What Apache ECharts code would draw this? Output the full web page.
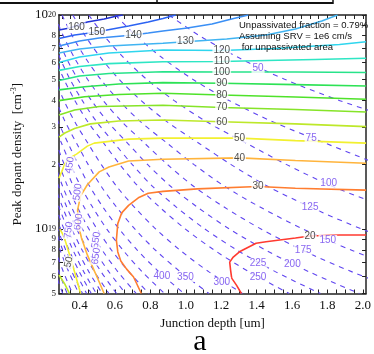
<!DOCTYPE html>
<html><head><meta charset="utf-8">
<script src="https://cdn.jsdelivr.net/npm/echarts@6/dist/echarts.min.js"></script>
<style>html,body{margin:0;padding:0;background:#fff}#c{width:374px;height:354px}</style>
</head><body><div id="c"></div>
<script>
// ---------- data ----------
const xTickLabels = [0.4, 0.6, 0.8, 1.0, 1.2, 1.4, 1.6, 1.8, 2.0];
const xMinorTicks = [0.3,0.35,0.4,0.45,0.5,0.55,0.6,0.65,0.7,0.75,0.8,0.85,0.9,0.95,1.0,1.05,1.1,1.15,1.2,1.25,1.3,1.35,1.4,1.45,1.5,1.55,1.6,1.65,1.7,1.75,1.8,1.85,1.9,1.95,2.0];
const yTickLabels = [5e18, 6e18, 7e18, 8e18, 9e18, 1e19, 2e19, 3e19, 4e19, 5e19, 6e19, 7e19, 8e19, 9e19, 1e20];

// dopant density levels at which the sheet-resistance contours are read
const densityLevels = [1e20, 7.94e19, 6.31e19, 5.01e19, 3.98e19, 3.16e19, 2.51e19, 2.0e19, 1.58e19, 1.26e19, 1.0e19, 7.94e18, 6.31e18, 5.0e18];
// sheet resistance contour values (ohm/sq) and junction depth (um) at each density level
const sheetValues = [50,75,100,125,150,175,200,225,250,300,350,400,450,500,550,600,650,700,750,800,850,900,950,1000,1100,1200,1300];
const sheetDepths = [
 [0.904,1.084,1.30,1.558,1.87,2.242,null,null,null,null,null,null,null,null],
 [0.603,0.723,0.867,1.039,1.247,1.495,1.793,2.093,null,null,null,null,null,null],
 [0.452,0.542,0.65,0.779,0.935,1.121,1.345,1.57,1.831,2.137,null,null,null,null],
 [0.362,0.434,0.52,0.623,0.748,0.897,1.076,1.256,1.465,1.71,1.995,2.328,null,null],
 [0.301,0.361,0.433,0.519,0.623,0.747,0.897,1.047,1.221,1.425,1.663,1.94,2.263,null],
 [0.258,0.31,0.371,0.445,0.534,0.641,0.769,0.897,1.046,1.221,1.425,1.663,1.939,2.263],
 [0.226,0.271,0.325,0.39,0.468,0.561,0.673,0.785,0.916,1.069,1.247,1.455,1.697,1.98],
 [null,0.241,0.289,0.346,0.416,0.498,0.598,0.698,0.814,0.95,1.108,1.293,1.508,1.76],
 [null,0.217,0.26,0.312,0.374,0.448,0.538,0.628,0.732,0.855,0.998,1.164,1.358,1.584],
 [null,null,0.217,0.26,0.312,0.374,0.448,0.523,0.61,0.712,0.831,0.97,1.131,1.32],
 [null,null,null,0.223,0.267,0.32,0.384,0.449,0.523,0.611,0.713,0.831,0.97,1.131],
 [null,null,null,null,0.234,0.28,0.336,0.393,0.458,0.534,0.624,0.728,0.849,0.99],
 [null,null,null,null,null,0.249,0.299,0.349,0.407,0.475,0.554,0.647,0.754,0.88],
 [null,null,null,null,null,0.224,0.269,0.314,0.366,0.427,0.499,0.582,0.679,0.792],
 [null,null,null,null,null,null,0.245,0.285,0.333,0.389,0.453,0.529,0.617,0.72],
 [null,null,null,null,null,null,0.224,0.262,0.305,0.356,0.416,0.485,0.566,0.66],
 [null,null,null,null,null,null,null,0.242,0.282,0.329,0.384,0.448,0.522,0.609],
 [null,null,null,null,null,null,null,0.224,0.262,0.305,0.356,0.416,0.485,0.566],
 [null,null,null,null,null,null,null,null,0.244,0.285,0.333,0.388,0.453,0.528],
 [null,null,null,null,null,null,null,null,0.229,0.267,0.312,0.364,0.424,0.495],
 [null,null,null,null,null,null,null,null,null,0.251,0.293,0.342,0.399,0.466],
 [null,null,null,null,null,null,null,null,null,0.237,0.277,0.323,0.377,0.44],
 [null,null,null,null,null,null,null,null,null,0.225,0.263,0.306,0.357,0.417],
 [null,null,null,null,null,null,null,null,null,null,0.249,0.291,0.339,0.396],
 [null,null,null,null,null,null,null,null,null,null,0.227,0.265,0.309,0.36],
 [null,null,null,null,null,null,null,null,null,null,null,0.243,0.283,0.33],
 [null,null,null,null,null,null,null,null,null,null,null,0.224,0.261,0.305]
];
const sheetLabelText = ['50','75','100','125','150','175','200','225','250','300','350','400','450','500','550','600','650','750'];
const sheetLabelPos = [[1.408,5.65e19],[1.708,2.66e19],[1.807,1.64e19],[1.702,1.27e19],[1.802,8.89e18],[1.663,7.98e18],[1.602,6.86e18],[1.408,6.94e18],[1.408,5.97e18],[1.203,5.65e18],[0.998,5.97e18],[0.865,6.03e18],[0.345,1.99e19],[0.389,1.49e19],[0.494,8.89e18],[0.394,1.08e19],[0.494,7.48e18],[0.339,9.89e18]];

// loss contours (solid): [junction depth um, peak density cm^-3]
const loss160 = [[0.284,8.51e19],[0.345,8.70e19],[0.444,9.27e19],[0.539,9.58e19],[0.611,9.89e19],[0.644,1e20]];
const loss150 = [[0.284,7.77e19],[0.372,8.07e19],[0.5,8.33e19],[0.555,8.51e19],[0.677,8.88e19],[0.788,9.27e19],[0.871,9.63e19],[0.943,1e20]];
const loss140 = [[0.284,7.16e19],[0.4,7.56e19],[0.511,7.81e19],[0.705,8.07e19],[0.788,8.24e19],[0.871,8.42e19],[1.009,8.70e19],[1.148,9.08e19],[1.259,9.58e19],[1.353,1e20]];
const loss130 = [[0.284,6.64e19],[0.4,6.94e19],[0.566,7.16e19],[0.732,7.28e19],[0.871,7.38e19],[0.998,7.50e19],[1.231,7.73e19],[1.453,8.07e19],[1.619,8.60e19],[1.768,9.37e19],[1.857,1e20]];
const loss120 = [[0.284,6.00e19],[0.4,6.36e19],[0.566,6.64e19],[0.871,6.86e19],[1.203,6.83e19],[1.508,6.97e19],[1.73,7.16e19],[1.868,7.28e19],[2.018,7.5e19]];
const loss110 = [[0.284,5.51e19],[0.4,5.75e19],[0.566,5.93e19],[0.871,6.05e19],[1.203,6.06e19],[1.453,6.13e19],[1.73,6.20e19],[2.018,6.28e19]];
const loss100 = [[0.284,4.94e19],[0.4,5.19e19],[0.566,5.33e19],[0.871,5.43e19],[1.203,5.42e19],[1.619,5.42e19],[2.018,5.39e19]];
const loss90 = [[0.284,4.47e19],[0.428,4.62e19],[0.622,4.76e19],[0.871,4.83e19],[1.203,4.80e19],[1.619,4.73e19],[2.018,4.66e19]];
const loss80 = [[0.284,3.98e19],[0.428,4.15e19],[0.622,4.25e19],[0.871,4.31e19],[1.203,4.23e19],[1.619,4.14e19],[2.018,4.04e19]];
const loss70 = [[0.284,3.41e19],[0.372,3.60e19],[0.511,3.74e19],[0.871,3.79e19],[1.203,3.70e19],[1.619,3.62e19],[2.018,3.52e19]];
const loss60 = [[0.284,2.69e19],[0.317,2.81e19],[0.372,2.95e19],[0.461,3.10e19],[0.622,3.20e19],[0.871,3.23e19],[1.203,3.17e19],[1.619,3.10e19],[2.018,3.01e19]];
const loss60Low = [[0.284,6.10e18],[0.317,5.53e18],[0.343,5.0e18]];
const loss50 = [[0.284,1.73e19],[0.3,1.86e19],[0.317,2.02e19],[0.345,2.15e19],[0.383,2.24e19],[0.444,2.44e19],[0.483,2.52e19],[0.677,2.63e19],[0.871,2.66e19],[1.303,2.66e19],[1.619,2.59e19],[2.018,2.52e19]];
const loss50Low = [[0.289,1.0e19],[0.311,9.28e18],[0.339,7.82e18],[0.372,6.30e18],[0.406,5.0e18]];
const loss40 = [[2.018,2.03e19],[1.619,2.09e19],[1.303,2.15e19],[0.871,2.12e19],[0.677,2.08e19],[0.566,1.95e19],[0.511,1.85e19],[0.444,1.61e19],[0.406,1.43e19],[0.389,1.23e19],[0.394,1.04e19],[0.411,9.08e18],[0.444,7.57e18],[0.489,6.23e18],[0.539,5.0e18]];
const loss30 = [[2.018,1.52e19],[1.619,1.55e19],[1.408,1.58e19],[1.065,1.54e19],[0.871,1.50e19],[0.788,1.47e19],[0.732,1.40e19],[0.677,1.29e19],[0.638,1.19e19],[0.616,1.06e19],[0.608,8.88e18],[0.616,7.82e18],[0.633,7.09e18],[0.666,6.50e18],[0.705,5.97e18],[0.749,5.0e18]];
const loss20 = [[2.018,9.38e18],[1.868,9.38e18],[1.702,9.28e18],[1.619,9.08e18],[1.453,8.72e18],[1.397,8.58e18],[1.303,7.83e18],[1.268,7.40e18],[1.248,7.01e18],[1.253,6.43e18],[1.259,5.90e18],[1.286,5.47e18],[1.314,5.0e18]];

const lossLabelText = ['160','150','140','130','120','110','100','90','80','70','60','50','40','30','20','50'];
const lossLabelPos = [[0.383,8.74e19],[0.497,8.33e19],[0.705,8.06e19],[0.998,7.50e19],[1.203,6.81e19],[1.203,6.05e19],[1.203,5.40e19],[1.203,4.80e19],[1.203,4.23e19],[1.203,3.69e19],[1.203,3.17e19],[1.303,2.66e19],[1.303,2.15e19],[1.408,1.58e19],[1.702,9.27e18],[0.339,7.01e18]];

// ---------- chart ----------
const serif = 'Liberation Serif, "Times New Roman", serif';
const sans = 'Liberation Sans, Arial, sans-serif';
const lossColor = {160:'#2233d6',150:'#2c63f2',140:'#3a8ff5',130:'#40b4f2',120:'#2fd6ee',110:'#2ee6c4',100:'#27e38a',90:'#2de255',80:'#4fe22a',70:'#86e428',60:'#bde82a',50:'#f2f030',40:'#ffb43c',30:'#ff7d30',20:'#ff3a30'};
const lossPaths = [[160,loss160],[150,loss150],[140,loss140],[130,loss130],[120,loss120],[110,loss110],[100,loss100],[90,loss90],[80,loss80],[70,loss70],[60,loss60],[60,loss60Low],[50,loss50],[50,loss50Low],[40,loss40],[30,loss30],[20,loss20]];
const X_MIN = 0.284, X_MAX = 2.018, Y_MIN = 5e18, Y_MAX = 1e20;
// keep the end ticks inside the log extent despite floating-point rounding
const yLabelValues = yTickLabels.map(v => v === Y_MAX ? v * 0.999999 : (v === Y_MIN ? v * 1.000001 : v));

const series = [];
sheetValues.forEach((r, i) => {
  const d = [];
  sheetDepths[i].forEach((x, j) => { if (x !== null) d.push([x, densityLevels[j]]); });
  series.push({ type: 'line', name: 'R' + r, data: d, symbol: 'none', silent: true, z: 2, smooth: 0.3,
    lineStyle: { color: '#5f45f0', width: 1.1, type: [5, 5] } });
});
lossPaths.forEach(([v, path]) => {
  series.push({ type: 'line', name: 'L' + v, data: path, symbol: 'none', silent: true, z: 3,
    lineStyle: { color: lossColor[v], width: 1.6 } });
});
const rotated = new Set(['450','500','550','600','650','750']);
series.push({ type: 'scatter', z: 6, silent: true, symbolSize: 1, itemStyle: { color: 'rgba(0,0,0,0)' },
  data: sheetLabelText.map((t, i) => ({ name: t, value: sheetLabelPos[i],
    label: { rotate: rotated.has(t) ? 82 : 0 } })),
  label: { show: true, position: 'inside', formatter: '{b}', color: '#6a40ee', fontFamily: sans, fontSize: 10,
    backgroundColor: '#fff', padding: [0, 1, 0, 1] } });
series.push({ type: 'scatter', z: 7, silent: true, symbolSize: 1, itemStyle: { color: 'rgba(0,0,0,0)' },
  data: lossLabelText.map((t, i) => ({ name: t, value: lossLabelPos[i],
    label: { rotate: i === lossLabelText.length - 1 ? 78 : 0 } })),
  label: { show: true, position: 'inside', formatter: '{b}', color: '#222', fontFamily: sans, fontSize: 10,
    backgroundColor: '#fff', padding: [0, 1, 0, 1] } });

const axisLineStyle = { color: '#222', width: 1.5 };
const chart = echarts.init(document.getElementById('c'), null, { renderer: 'canvas' });
chart.setOption({
  animation: false,
  grid: { left: 59, top: 15, right: 1.3, bottom: 60.5, containLabel: false },
  xAxis: [
    { type: 'value', min: X_MIN, max: X_MAX, position: 'bottom',
      axisLine: { show: true, lineStyle: axisLineStyle }, splitLine: { show: false },
      axisTick: { show: true, inside: true, length: 4, customValues: xMinorTicks, lineStyle: { color: '#222', width: 1 } },
      axisLabel: { customValues: xTickLabels, formatter: v => v.toFixed(1), fontFamily: serif, fontSize: 13, color: '#111', margin: 6,
        showMinLabel: true, showMaxLabel: true },
      name: 'Junction depth [um]', nameLocation: 'middle', nameGap: 20,
      nameTextStyle: { fontFamily: serif, fontSize: 13, color: '#111' } },
    { type: 'value', min: X_MIN, max: X_MAX, position: 'top',
      axisLine: { show: true, lineStyle: axisLineStyle }, splitLine: { show: false },
      axisTick: { show: true, inside: true, length: 4, customValues: xMinorTicks, lineStyle: { color: '#222', width: 1 } },
      axisLabel: { show: false } }
  ],
  yAxis: [
    { type: 'log', logBase: 10, min: Y_MIN, max: Y_MAX, position: 'left',
      axisLine: { show: true, lineStyle: { color: '#555', width: 2 } }, splitLine: { show: false },
      axisTick: { show: true, inside: true, length: 4, customValues: yLabelValues, lineStyle: { color: '#222', width: 1 } },
      axisLabel: { customValues: yLabelValues, margin: 3, color: '#111', showMinLabel: true, showMaxLabel: true, hideOverlap: false,
        formatter: v => {
          const e = Math.floor(Math.log10(v) + 1e-6);
          const m = Math.round(v / Math.pow(10, e));
          return m === 1 ? '{b|10}{s|' + e + '}' : '{m|' + m + '}';
        },
        rich: { b: { fontFamily: serif, fontSize: 13, lineHeight: 9, color: '#111' },
                s: { fontFamily: serif, fontSize: 8, lineHeight: 1, color: '#111', verticalAlign: 'top' },
                m: { fontFamily: serif, fontSize: 9, lineHeight: 5, color: '#111' } } },
      name: 'Peak dopant density  [cm{sup|-3}]', nameLocation: 'middle', nameGap: 30,
      nameTextStyle: { fontFamily: serif, fontSize: 13, color: '#111',
        rich: { sup: { fontFamily: serif, fontSize: 8, color: '#111', verticalAlign: 'bottom', padding: [0, 0, 8, 0] } } } },
    { type: 'log', logBase: 10, min: Y_MIN, max: Y_MAX, position: 'right',
      axisLine: { show: true, lineStyle: axisLineStyle }, splitLine: { show: false },
      axisTick: { show: true, inside: true, length: 4, customValues: yLabelValues, lineStyle: { color: '#222', width: 1 } },
      axisLabel: { show: false } }
  ],
  graphic: [
    { type: 'line', shape: { x1: 0, y1: 3, x2: 333, y2: 3 }, style: { stroke: '#111', lineWidth: 2 } },
    { type: 'line', shape: { x1: 157, y1: 0, x2: 157, y2: 3 }, style: { stroke: '#111', lineWidth: 1.5 } },
    { type: 'line', shape: { x1: 333, y1: 0, x2: 333, y2: 4 }, style: { stroke: '#111', lineWidth: 1.5 } },
    { type: 'text', x: 239, y: 20.5, z: 10,
      style: { text: 'Unpassivated fraction = 0.79%\nAssuming SRV = 1e6 cm/s\n for unpassivated area',
        fontFamily: sans, fontSize: 9.5, lineHeight: 10.7, fill: '#111' } },
    { type: 'text', x: 200, y: 342, style: { text: 'a', fontFamily: serif, fontSize: 30, fill: '#000', align: 'center', verticalAlign: 'middle' } }
  ],
  series: series
});
</script>
</body></html>
